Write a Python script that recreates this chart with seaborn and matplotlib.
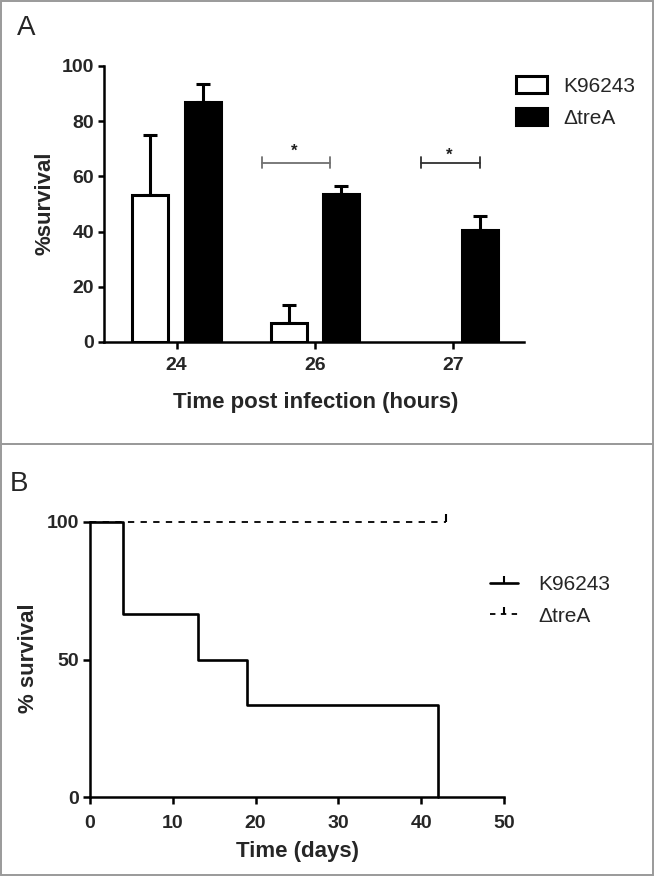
import numpy as np
import pandas as pd
import matplotlib
matplotlib.use("Agg")
import matplotlib.pyplot as plt
import seaborn as sns
from matplotlib.patches import Patch, Rectangle
from matplotlib.lines import Line2D

# ---------------- data ----------------
strains = ["K96243", "ΔtreA"]
times_a = ["24", "26", "27"]
survival_k = [53.3, 6.9, 0.0]
survival_d = [87.1, 53.7, 40.4]
sem_k = [21.7, 6.6, 0.0]
sem_d = [6.3, 2.9, 5.3]
yticks_a = [0, 20, 40, 60, 80, 100]

days_k = [0, 4, 13, 19, 42]
surv_k = [100, 66.7, 50, 33.3, 0]
days_d = [0, 43]
surv_d = [100, 100]
censor_d = [43]
censor_d_surv = [100]
xticks_b = [0, 10, 20, 30, 40, 50]
yticks_b = [0, 50, 100]

# ---------------- style ----------------
sns.set_style("ticks")
plt.rcParams["font.family"] = ["Liberation Sans", "DejaVu Sans"]

W, H = 655, 877
fig = plt.figure(figsize=(W / 100, H / 100), dpi=100)


def fr(x0, y0, x1, y1):
    return [x0 / W, 1 - y1 / H, (x1 - x0) / W, (y1 - y0) / H]


# panel frames
for (x0, y0, x1, y1) in [(1, 1, 653, 444), (1, 444, 653, 875)]:
    fig.add_artist(Rectangle((x0 / W, 1 - y1 / H), (x1 - x0) / W, (y1 - y0) / H,
                             transform=fig.transFigure, fill=False,
                             edgecolor="#9a9a9a", linewidth=1.4))

# ---------------- panel A ----------------
axA = fig.add_axes(fr(104, 66, 524, 342))
df = pd.DataFrame({
    "time": times_a * 2,
    "strain": [strains[0]] * len(times_a) + [strains[1]] * len(times_a),
    "survival": survival_k + survival_d,
})
sns.barplot(data=df, x="time", y="survival", hue="strain", hue_order=strains,
            order=times_a, palette=["white", "black"], saturation=1,
            edgecolor="black", linewidth=2.2, width=0.76, errorbar=None,
            legend=False, ax=axA, zorder=2)

bar_w = 0.26
for cont, err in zip(axA.containers, [sem_k, sem_d]):
    for p, e in zip(cont.patches, err):
        cx = p.get_x() + p.get_width() / 2
        p.set_width(bar_w)
        p.set_x(cx - bar_w / 2)
        if p.get_height() == 0:
            p.set_visible(False)
            continue
        if e > 0:
            axA.errorbar(cx, p.get_height(), yerr=[[0], [e]], fmt="none",
                         ecolor="black", elinewidth=2.2, capsize=4.7,
                         capthick=2.2, zorder=1)

axA.set_xlim(-0.525, 2.51)
axA.set_ylim(0, 100)
axA.set_yticks(yticks_a)
axA.set_yticklabels([str(v) for v in yticks_a], fontweight="bold")
axA.set_xticks(range(len(times_a)))
axA.set_xticklabels(times_a, fontweight="bold")
axA.tick_params(axis="both", labelsize=14, width=1.8, color="black")
axA.tick_params(axis="x", length=5, pad=6)
axA.tick_params(axis="y", length=4, pad=3)
sns.despine(ax=axA)
for s in ["left", "bottom"]:
    axA.spines[s].set_linewidth(1.8)
    axA.spines[s].set_color("black")
axA.set_xlabel("Time post infection (hours)", fontsize=16, fontweight="bold")
axA.set_ylabel("%survival", fontsize=16, fontweight="bold")
axA.xaxis.set_label_coords(0.505, -0.221)
axA.xaxis.label.set_va("center")
axA.yaxis.set_label_coords(-0.14, 0.504)
axA.yaxis.label.set_va("center")

# significance brackets
y_br = 64.9
for (xa, xb, xs, ys, col) in [(0.614, 1.107, 0.847, 69.0, "#707070"),
                              (1.769, 2.19, 1.966, 67.5, "#303030")]:
    axA.plot([xa, xb], [y_br, y_br], color=col, lw=1.3, clip_on=False)
    axA.plot([xa, xa], [y_br - 2, y_br + 2], color=col, lw=1.3)
    axA.plot([xb, xb], [y_br - 2, y_br + 2], color=col, lw=1.3)
    axA.text(xs, ys, "*", ha="center", va="center", fontsize=12,
             fontweight="bold", color="#202020")

handlesA = [Patch(facecolor="white", edgecolor="black", linewidth=2.2),
            Patch(facecolor="black", edgecolor="black", linewidth=2.2)]
fig.legend(handlesA, strains, loc="upper left",
           bbox_to_anchor=(516 / W, 1 - 76 / H), bbox_transform=fig.transFigure,
           frameon=False, fontsize=15, handlelength=1.5, handleheight=0.85,
           handletextpad=0.75, labelspacing=0.62, borderpad=0, borderaxespad=0)

fig.text(17 / W, 1 - 15 / H, "A", fontsize=20, va="top", ha="left")

# ---------------- panel B ----------------
axB = fig.add_axes(fr(90, 522, 504, 797))
sns.lineplot(x=days_d, y=surv_d, ax=axB, color="black", linewidth=1.3,
             linestyle=(0, (3.5, 3.5)), drawstyle="steps-post", clip_on=False)
sns.lineplot(x=days_k, y=surv_k, ax=axB, color="black", linewidth=1.9,
             drawstyle="steps-post", clip_on=False)
axB.plot(censor_d, censor_d_surv, marker=2, ms=6, mew=1.5, color="black",
         linestyle="none", clip_on=False)

axB.set_xlim(0, 50)
axB.set_ylim(0, 100)
axB.set_xticks(xticks_b)
axB.set_xticklabels([str(v) for v in xticks_b], fontweight="bold")
axB.set_yticks(yticks_b)
axB.set_yticklabels([str(v) for v in yticks_b], fontweight="bold")
axB.tick_params(axis="both", labelsize=14, width=1.8, color="black")
axB.tick_params(axis="x", length=5, pad=8)
axB.tick_params(axis="y", length=5, pad=3)
sns.despine(ax=axB)
for s in ["left", "bottom"]:
    axB.spines[s].set_linewidth(1.8)
    axB.spines[s].set_color("black")
axB.set_xlabel("Time (days)", fontsize=16, fontweight="bold")
axB.set_ylabel("% survival", fontsize=16, fontweight="bold")
axB.xaxis.set_label_coords(0.502, -0.2)
axB.xaxis.label.set_va("center")
axB.yaxis.set_label_coords(-0.148, 0.505)
axB.yaxis.label.set_va("center")

handlesB = [Line2D([0], [0], color="black", lw=1.9, marker=2, ms=5, mew=1.5),
            Line2D([0], [0], color="black", lw=1.3, ls=(0, (3, 3)), marker=2,
                   ms=5, mew=1.5)]
fig.legend(handlesB, strains, loc="upper left",
           bbox_to_anchor=(490 / W, 1 - 575 / H), bbox_transform=fig.transFigure,
           frameon=False, fontsize=15, handlelength=1.35, handletextpad=0.95,
           labelspacing=0.6, borderpad=0, borderaxespad=0)

fig.text(10 / W, 1 - 471 / H, "B", fontsize=20, va="top", ha="left")

fig.savefig("out.png", dpi=100, facecolor="white")
